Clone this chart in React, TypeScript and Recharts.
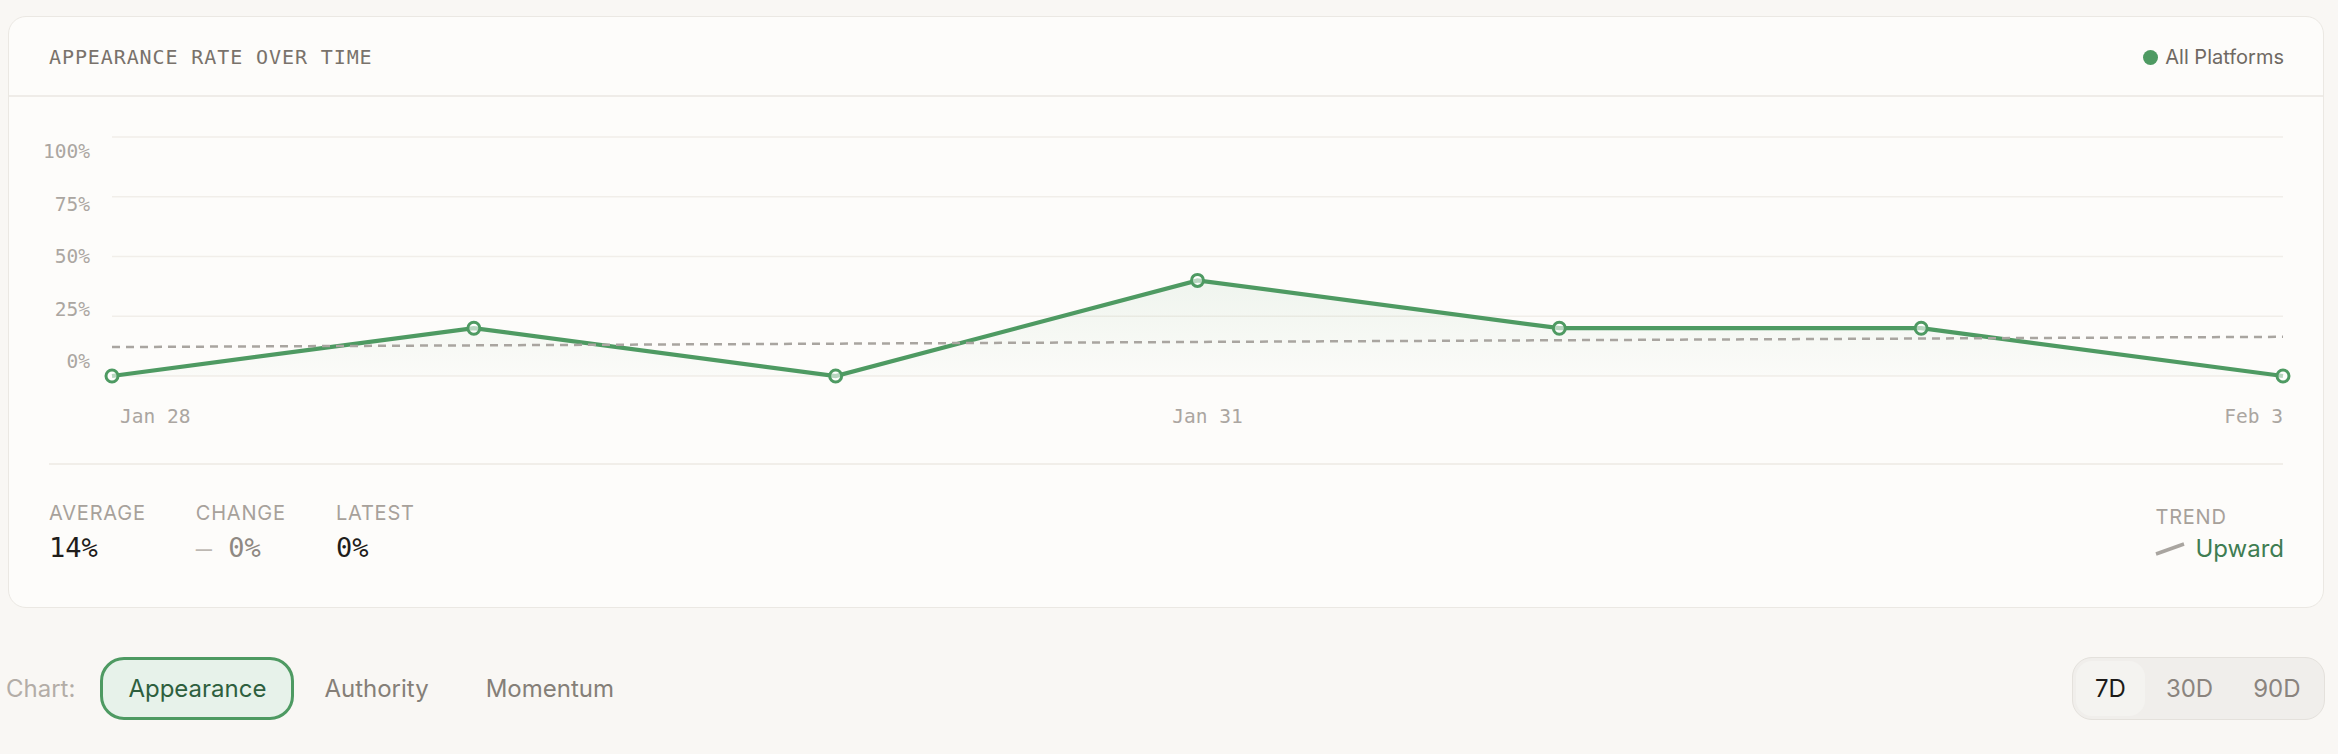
import React from 'react'
import { ComposedChart, Area, Line, XAxis, YAxis, CartesianGrid } from 'recharts'

const dates = ['Jan 28', 'Jan 29', 'Jan 30', 'Jan 31', 'Feb 1', 'Feb 2', 'Feb 3']
const appearance = [0, 20, 0, 40, 20, 20, 0]
// dashed trend line, read at both ends only
const trend: (number | null)[] = [12.1, null, null, null, null, null, 16.4]
const yTicks = [0, 25, 50, 75, 100]

const chartTabs = ['Appearance', 'Authority', 'Momentum']
const ranges = ['7D', '30D', '90D']

const GREEN = '#4e9a62'
const MONO = '"DejaVu Sans Mono", "Liberation Mono", monospace'
const SANS = 'Inter, "Noto Sans", sans-serif'

// plot box, in card coordinates
const CHART_W = 2316
const CHART_H = 454
const PLOT_TOP = 121
const X_AXIS_H = 94
const PLOT_BOTTOM = CHART_H - X_AXIS_H

const data = dates.map((d, i) => ({ date: d, value: appearance[i], trend: trend[i] }))

const YTick = (props: any) => {
  const { x, y, payload } = props
  const mid = (PLOT_TOP + PLOT_BOTTOM) / 2
  const ty = mid + (y - mid) * 0.88
  return (
    <text x={x} y={ty} dy="0.35em" textAnchor="end" fill="#aba6a1" fontSize={19.5} fontFamily={MONO}>
      {payload.value}%
    </text>
  )
}

const XTick = (props: any) => {
  const { x, y, payload } = props
  const first = payload.value === dates[0]
  const last = payload.value === dates[dates.length - 1]
  const anchor = first ? 'start' : last ? 'end' : 'middle'
  const dx = first ? 8 : last ? 0 : 10
  return (
    <text x={x + dx} y={y + 40} dy="0.35em" textAnchor={anchor} fill="#aba6a1" fontSize={19.5} fontFamily={MONO}>
      {payload.value}
    </text>
  )
}

const statLabel: React.CSSProperties = {
  fontFamily: SANS,
  fontSize: 20,
  letterSpacing: 0.8,
  color: '#a7a19b',
  lineHeight: '24px',
}

function Stat({ label, children }: { label: string; children: React.ReactNode }) {
  return (
    <div>
      <div style={statLabel}>{label}</div>
      <div style={{ fontFamily: MONO, fontSize: 27, lineHeight: '34px', marginTop: 6, fontWeight: 500 }}>{children}</div>
    </div>
  )
}

export default function App() {
  return (
    <div style={{ position: 'relative', width: 2338, height: 754, background: '#f9f7f4', overflow: 'hidden' }}>
      <style>{`body{margin:0;background:#f9f7f4}`}</style>

      {/* card */}
      <div
        style={{
          position: 'absolute',
          left: 8,
          top: 16,
          width: 2316,
          height: 592,
          boxSizing: 'border-box',
          background: '#fdfcfa',
          border: '1.5px solid #ebe8e3',
          borderRadius: 18,
        }}
      >
        <div
          style={{
            position: 'absolute',
            left: 40,
            top: 28,
            fontFamily: MONO,
            fontSize: 20,
            letterSpacing: 0.9,
            color: '#79726b',
            lineHeight: '24px',
          }}
        >
          APPEARANCE RATE OVER TIME
        </div>
        <div style={{ position: 'absolute', right: 39, top: 28, display: 'flex', alignItems: 'center', gap: 7, height: 24 }}>
          <span style={{ width: 15, height: 15, borderRadius: '50%', background: GREEN, display: 'inline-block' }} />
          <span style={{ fontFamily: SANS, fontSize: 20, color: '#6f6963' }}>All Platforms</span>
        </div>
        <div style={{ position: 'absolute', left: 0, right: 0, top: 78, height: 2, background: '#efece8' }} />

        <div style={{ position: 'absolute', left: -1.5, top: -1.5 }}>
          <ComposedChart
            width={CHART_W}
            height={CHART_H}
            data={data}
            margin={{ top: PLOT_TOP, right: 41, bottom: 0, left: 40 }}
          >
            <defs>
              <linearGradient id="appFill" x1="0" y1="0" x2="0" y2="1">
                <stop offset="0%" stopColor={GREEN} stopOpacity={0.13} />
                <stop offset="100%" stopColor={GREEN} stopOpacity={0.02} />
              </linearGradient>
            </defs>
            <CartesianGrid vertical={false} stroke="#f1eee9" strokeWidth={1.5} />
            <XAxis
              dataKey="date"
              height={X_AXIS_H}
              interval={2}
              axisLine={false}
              tickLine={false}
              tickSize={0}
              tickMargin={0}
              tick={<XTick />}
            />
            <YAxis
              domain={[0, 100]}
              ticks={yTicks}
              width={64}
              axisLine={false}
              tickLine={false}
              tickSize={0}
              tickMargin={22}
              tick={<YTick />}
            />
            <Line
              dataKey="trend"
              connectNulls
              stroke="#a9a5a0"
              strokeWidth={2.5}
              strokeDasharray="8 6"
              dot={false}
              activeDot={false}
              isAnimationActive={false}
            />
            <Area
              dataKey="value"
              type="linear"
              stroke={GREEN}
              strokeWidth={4.2}
              fill="url(#appFill)"
              dot={{ r: 6, stroke: GREEN, strokeWidth: 3, fill: '#ffffff' }}
              activeDot={false}
              isAnimationActive={false}
            />
          </ComposedChart>
        </div>

        <div style={{ position: 'absolute', left: 40, right: 40, top: 446, height: 2, background: '#f1eee9' }} />

        <div style={{ position: 'absolute', left: 40, top: 484, display: 'flex', gap: 50 }}>
          <Stat label="AVERAGE">
            <span style={{ color: '#1f1d1b' }}>14%</span>
          </Stat>
          <Stat label="CHANGE">
            <span style={{ color: '#bdb8b2' }}>—</span>
            <span style={{ color: '#8f8983' }}> 0%</span>
          </Stat>
          <Stat label="LATEST">
            <span style={{ color: '#1f1d1b' }}>0%</span>
          </Stat>
        </div>

        <div style={{ position: 'absolute', right: 39, top: 488 }}>
          <div style={statLabel}>TREND</div>
          <div style={{ display: 'flex', alignItems: 'center', gap: 10, marginTop: 4 }}>
            <svg width={30} height={14}>
              <line x1={1} y1={12} x2={29} y2={2} stroke="#a9a5a0" strokeWidth={3.5} />
            </svg>
            <span style={{ fontFamily: SANS, fontSize: 24, color: '#3f7d52', lineHeight: '32px' }}>Upward</span>
          </div>
        </div>
      </div>

      {/* chart switcher */}
      <div style={{ position: 'absolute', left: 6, top: 657, height: 63, display: 'flex', alignItems: 'center' }}>
        <span style={{ fontFamily: SANS, fontSize: 24, color: '#b3ada7', marginRight: 25 }}>Chart:</span>
        <div style={{ display: 'flex', gap: 3 }}>
          {chartTabs.map((t, i) => (
            <div
              key={t}
              style={{
                height: 63,
                boxSizing: 'border-box',
                padding: i === 0 ? '0 25px' : '0 24px',
                display: 'flex',
                alignItems: 'center',
                borderRadius: 24,
                border: i === 0 ? `3px solid ${GREEN}` : '3px solid transparent',
                background: i === 0 ? '#e7f2ea' : 'transparent',
                fontFamily: SANS,
                fontSize: 24,
                color: i === 0 ? '#2e5f3e' : '#857f78',
              }}
            >
              {t}
            </div>
          ))}
        </div>
      </div>

      {/* range switcher */}
      <div
        style={{
          position: 'absolute',
          left: 2072,
          top: 657,
          width: 253,
          height: 63,
          boxSizing: 'border-box',
          padding: 3,
          display: 'flex',
          gap: 2,
          background: '#f0eeeb',
          border: '1.5px solid #e4e1dc',
          borderRadius: 20,
        }}
      >
        {ranges.map((r, i) => (
          <div
            key={r}
            style={{
              padding: '0 19px',
              display: 'flex',
              alignItems: 'center',
              borderRadius: 16,
              background: i === 0 ? '#f4f3f0' : 'transparent',
              fontFamily: SANS,
              fontSize: 24,
              color: i === 0 ? '#1c1a18' : '#8a847e',
            }}
          >
            {r}
          </div>
        ))}
      </div>
    </div>
  )
}
